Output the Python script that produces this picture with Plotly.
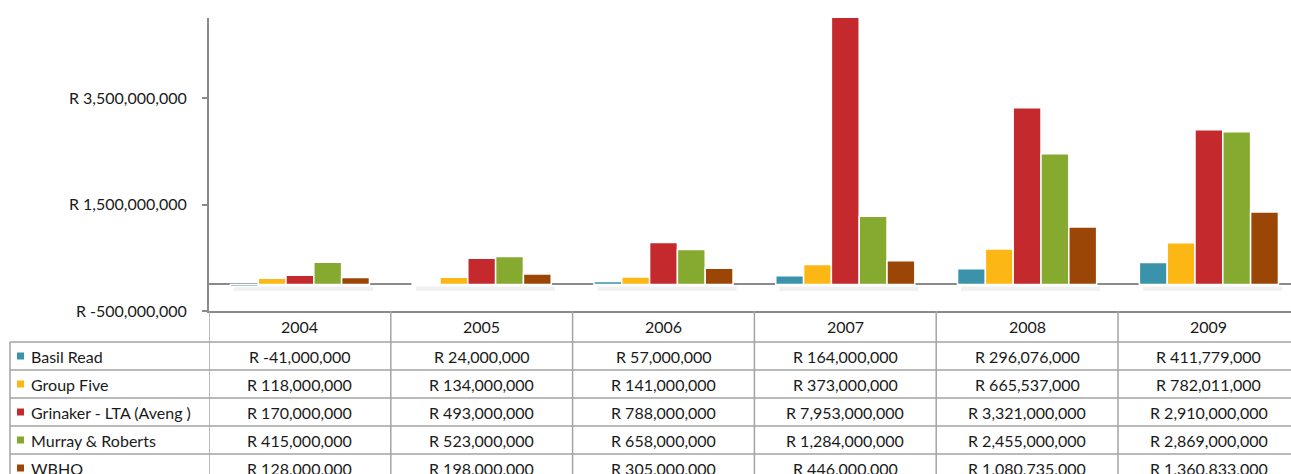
import plotly.graph_objects as go

# ---- data ----
years = ["2004", "2005", "2006", "2007", "2008", "2009"]
series_names = ["Basil Read", "Group Five", "Grinaker - LTA (Aveng )", "Murray & Roberts", "WBHO"]
basil_read = [-41000000, 24000000, 57000000, 164000000, 296076000, 411779000]
group_five = [118000000, 134000000, 141000000, 373000000, 665537000, 782011000]
grinaker = [170000000, 493000000, 788000000, 7953000000, 3321000000, 2910000000]
murray = [415000000, 523000000, 658000000, 1284000000, 2455000000, 2869000000]
wbho = [128000000, 198000000, 305000000, 446000000, 1080735000, 1360833000]
tick_values = [-500000000, 1500000000, 3500000000]
tick_labels = ["R -500,000,000", "R 1,500,000,000", "R 3,500,000,000"]

series_values = [basil_read, group_five, grinaker, murray, wbho]
colors = ["#3A93AB", "#FDB714", "#C4292E", "#86AA2F", "#9B4607"]

# ---- layout geometry (body margin removed by post_script) ----
W, H = 1291, 474
L, T = 209, 18
PLOT_BOTTOM = 311
R, B = 0, H - PLOT_BOTTOM
PW, PH = W - L - R, H - T - B
COL_W = 181.8
BARGAP = 0.235
FONT = "Lato"
FS = 16
TXT = "#1a1a1a"
LINE = "#a3a3a3"


def px_x(px):
    """page x pixel -> paper x"""
    return (px - L) / PW


def px_y(py):
    """page y pixel -> paper y"""
    return (PLOT_BOTTOM - py) / PH


fig = go.Figure()
for name, vals, col in zip(series_names, series_values, colors):
    fig.add_trace(go.Bar(
        x=years, y=vals, name=name,
        marker=dict(color=col, line=dict(color="white", width=1.5)),
        showlegend=False,
    ))

shapes = []
annotations = []

# soft shadow band under each bar group (Excel shadow effect)
half = (1 - BARGAP) / 2
for i in range(len(years)):
    shapes.append(dict(type="rect", xref="x", yref="paper",
                       x0=i - half + 0.02, x1=i + half + 0.02,
                       y0=px_y(291), y1=px_y(286.5),
                       fillcolor="#d0d0d0", opacity=0.3, line=dict(width=0), layer="below"))

header_top, header_h, row_h = 311, 31, 28
row_tops = [header_top + header_h + i * row_h for i in range(len(series_names))]
table_left = 10

# vertical column lines (through the table area)
for i in range(len(years) + 1):
    shapes.append(dict(type="line", xref="x", yref="paper",
                       x0=i - 0.5, x1=i - 0.5, y0=px_y(header_top), y1=px_y(480),
                       line=dict(color=LINE, width=1.5), layer="above"))
# left border of label column
shapes.append(dict(type="line", xref="paper", yref="paper",
                   x0=px_x(table_left), x1=px_x(table_left),
                   y0=px_y(row_tops[0]), y1=px_y(480),
                   line=dict(color=LINE, width=1.5)))
# horizontal row lines
for top in row_tops:
    shapes.append(dict(type="line", xref="paper", yref="paper",
                       x0=px_x(table_left), x1=1, y0=px_y(top), y1=px_y(top),
                       line=dict(color=LINE, width=1.5)))

# header texts
for i, yr in enumerate(years):
    annotations.append(dict(xref="x", yref="paper", x=i, y=px_y(header_top + header_h / 2),
                            text=yr, showarrow=False, xanchor="center", yanchor="middle",
                            font=dict(family=FONT, size=FS, color=TXT)))

# row labels, keys, and values
for r, (name, vals, col) in enumerate(zip(series_names, series_values, colors)):
    cy = row_tops[r] + row_h / 2
    shapes.append(dict(type="rect", xref="paper", yref="paper",
                       x0=px_x(17), x1=px_x(24), y0=px_y(cy - 3.5), y1=px_y(cy + 3.5),
                       fillcolor=col, line=dict(width=0)))
    annotations.append(dict(xref="paper", yref="paper", x=px_x(29), y=px_y(cy),
                            text=name, showarrow=False, xanchor="left", yanchor="middle",
                            font=dict(family=FONT, size=FS, color=TXT)))
    for i, v in enumerate(vals):
        annotations.append(dict(xref="x", yref="paper", x=i, y=px_y(cy),
                                text=f"R {v:,.0f}", showarrow=False,
                                xanchor="center", yanchor="middle",
                                font=dict(family=FONT, size=FS, color=TXT)))

fig.update_layout(
    width=W, height=H, autosize=False,
    margin=dict(l=L, r=R, t=T, b=B, pad=0),
    paper_bgcolor="white", plot_bgcolor="white",
    barmode="group", bargap=BARGAP, bargroupgap=0,
    shapes=shapes, annotations=annotations,
    font=dict(family=FONT, size=FS, color=TXT),
)
fig.update_xaxes(
    type="category", range=[-0.5, -0.5 + PW / COL_W],
    showticklabels=False, ticks="", showgrid=False,
    showline=True, linecolor="#8a8a8a", linewidth=2, zeroline=False,
)
fig.update_yaxes(
    range=[-500000000, 5010000000],
    tickvals=tick_values, ticktext=tick_labels,
    ticks="outside", ticklen=5, tickcolor="#8a8a8a", tickwidth=1.5,
    ticklabelstandoff=12,
    showgrid=False, showline=True, linecolor="#8a8a8a", linewidth=2,
    zeroline=True, zerolinecolor="#8a8a8a", zerolinewidth=2,
    tickfont=dict(family=FONT, size=FS, color=TXT),
)

fig.write_html(
    "out.html",
    config={"displayModeBar": False},
    post_script="document.documentElement.style.overflow='hidden';"
                "document.body.style.overflow='hidden';"
                "document.body.style.margin='0';",
)
